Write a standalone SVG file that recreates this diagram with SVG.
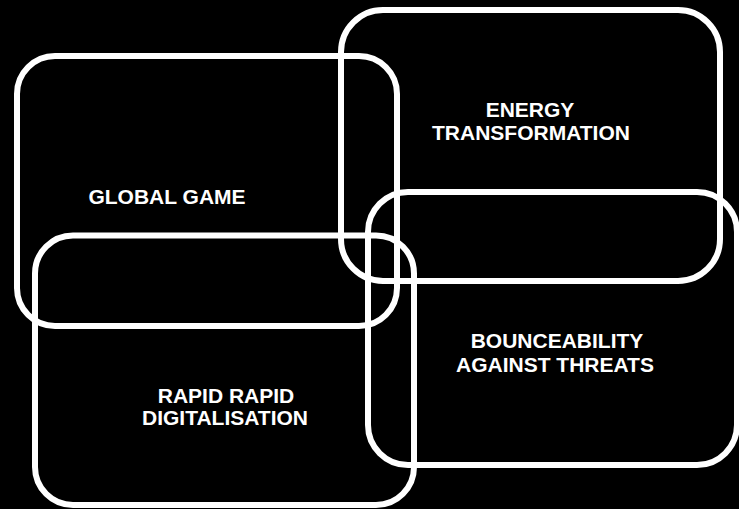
<svg xmlns="http://www.w3.org/2000/svg" width="739" height="509" viewBox="0 0 739 509">
<style>
.box{fill:none;stroke:#ffffff;stroke-width:6}
.lbl{fill:#ffffff;font-family:"Liberation Sans",Arial,sans-serif;font-weight:bold;font-size:21px;text-anchor:middle}
</style>
<rect x="0" y="0" width="739" height="509" fill="#000000"/>
<g id="global-game">
<rect class="box" x="17" y="56" width="380" height="270" rx="38" ry="38"/>
<text class="lbl" x="167" y="204">GLOBAL GAME</text>
</g>
<g id="energy-transformation">
<rect class="box" x="341" y="10" width="379" height="271" rx="42" ry="42"/>
<text class="lbl" x="530" y="117">ENERGY</text>
<text class="lbl" x="531" y="140">TRANSFORMATION</text>
</g>
<g id="rapid-digitalisation">
<rect class="box" x="35" y="235.5" width="379" height="269.5" rx="38" ry="38"/>
<text class="lbl" x="226" y="403">RAPID RAPID</text>
<text class="lbl" x="225" y="425">DIGITALISATION</text>
</g>
<g id="bounceability">
<rect class="box" x="368" y="192" width="369" height="273" rx="40" ry="40"/>
<text class="lbl" x="557" y="348">BOUNCEABILITY</text>
<text class="lbl" x="555" y="372">AGAINST THREATS</text>
</g>
<g id="connectors"></g>
</svg>
